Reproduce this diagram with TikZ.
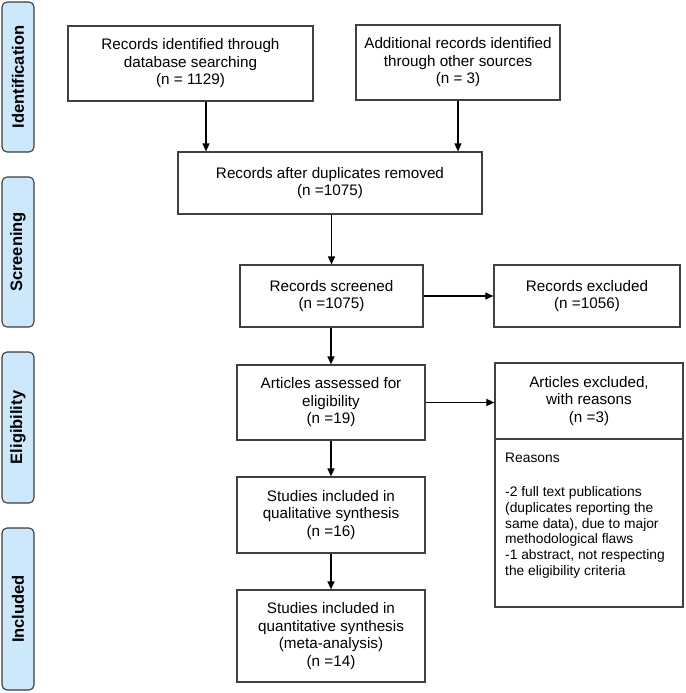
\documentclass[tikz,border=0pt]{standalone}
\usepackage{fontspec}
\setmainfont{Liberation Sans}
\usetikzlibrary{arrows.meta}
\definecolor{sidefill}{RGB}{205,231,251}
\definecolor{sideline}{RGB}{60,60,60}
\definecolor{boxline}{RGB}{64,64,64}
\tikzset{
  box/.style={draw=boxline, line width=1.2pt, rectangle, inner sep=2pt, align=center,
    font=\fontsize{15.25}{17.5}\selectfont},
  side/.style={draw=sideline, fill=sidefill, line width=1.1pt, rounded corners=5pt, rotate=90,
    minimum height=32pt, inner sep=0pt, font=\fontsize{16.5}{19}\selectfont\bfseries},
  arr/.style={draw=black, line width=1.2pt, -{Triangle[length=8pt,width=7pt]}}
}
\begin{document}
\begin{tikzpicture}[x=1pt,y=-1pt]
\useasboundingbox (0,0) rectangle (685,693);
% side labels
\node[side, minimum width=150pt] (sid) at (18,77) {Identification};
\node[side, minimum width=150pt] (ssc) at (18,252) {Screening};
\node[side, minimum width=151pt] (sel) at (18,427.5) {Eligibility};
\node[side, minimum width=162pt] (sin) at (18,609) {Included};
% boxes
\node[box, minimum width=245pt, minimum height=75pt] (b1) at (190.5,63.5)
  {Records identified through\\database searching\\(n = 1129)};
\node[box, minimum width=204pt, minimum height=75pt] (b2) at (458,62.5)
  {Additional records identified\\through other sources\\(n = 3)};
\node[box, minimum width=304pt, minimum height=62pt] (b3) at (330,183)
  {Records after duplicates removed\\(n =1075)};
\node[box, minimum width=183pt, minimum height=62pt] (b4) at (331.5,296)
  {Records screened\\(n =1075)};
\node[box, minimum width=186pt, minimum height=62pt] (b5) at (587,296)
  {Records excluded\\(n =1056)};
\node[box, minimum width=188pt, minimum height=75pt] (b6) at (331,402.5)
  {Articles assessed for\\eligibility\\(n =19)};
\node[box, minimum width=188pt, minimum height=76pt] (ex) at (589,401)
  {Articles excluded,\\with reasons\\(n =3)};
\node[box, minimum width=188pt, minimum height=168pt] (rs) at (589,523) {};
\node[anchor=north west, inner sep=0pt, align=left,
  font=\fontsize{13.8}{15.7}\selectfont] (rt) at (505,453)
  {Reasons\\[18.3pt]-2 full text publications\\(duplicates reporting the\\same data), due to major\\methodological flaws\\-1 abstract, not respecting\\the eligibility criteria};
\node[box, minimum width=188pt, minimum height=76pt] (b7) at (331,515)
  {Studies included in\\qualitative synthesis\\(n =16)};
\node[box, minimum width=188pt, minimum height=92pt] (b8) at (331,636)
  {Studies included in\\quantitative synthesis\\(meta-analysis)\\(n =14)};
% connectors
\draw[arr] ([xshift=15.5pt]b1.south) -- ([xshift=15.5pt]b1.south |- b3.north);
\draw[arr] (b2.south) -- (b2.south |- b3.north);
\draw[arr] (b3.south -| b4.north) -- (b4.north);
\draw[arr] (b4.east) -- (b5.west);
\draw[arr] (b4.south -| b6.north) -- (b6.north);
\draw[arr] (b6.east) -- (ex.west |- b6.east);
\draw[arr] (b6.south) -- (b7.north);
\draw[arr] (b7.south) -- (b8.north);
\end{tikzpicture}
\end{document}
